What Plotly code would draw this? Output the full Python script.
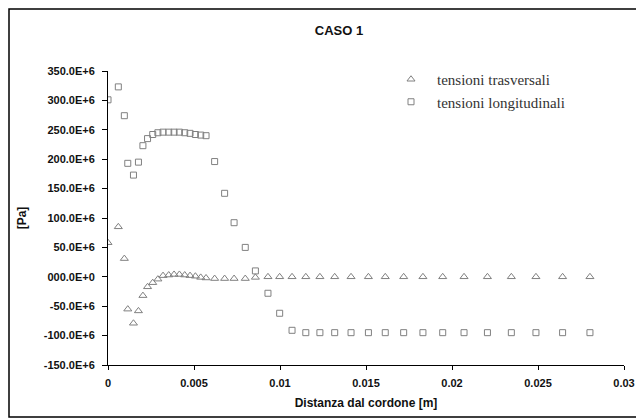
import plotly.graph_objects as go

# Distance from weld bead [m]
distanza = [0.0, 0.0006, 0.00095, 0.00115, 0.00148, 0.00177, 0.00203, 0.0023, 0.0026,
            0.0029, 0.0032, 0.00353, 0.00384, 0.00415, 0.00446, 0.00477, 0.00508, 0.00539, 0.0057,
            0.0062, 0.00678, 0.00733, 0.00798, 0.00857, 0.0093, 0.00998, 0.0107,
            0.0115, 0.01232, 0.01318, 0.01413, 0.01514, 0.01612, 0.01719, 0.01831, 0.01946,
            0.0207, 0.02206, 0.02345, 0.02488, 0.02643, 0.02802]

# Stresses [Pa]
tensioni_trasversali = [58e6, 85e6, 31e6, -55e6, -79e6, -58e6, -32e6, -17e6, -10e6,
                        -4e6, 2e6, 3e6, 4e6, 4e6, 3e6, 2e6, 1e6, -1e6, -2e6,
                        -3e6, -3e6, -3e6, -3e6, -1e6, 0, 0, 0,
                        0, 0, 0, 0, 0, 0, 0, 0, 0,
                        0, 0, 0, 0, 0, 0]

tensioni_longitudinali = [301e6, 323e6, 274e6, 193e6, 173e6, 195e6, 223e6, 235e6, 242e6,
                          245e6, 246e6, 246e6, 246e6, 246e6, 245e6, 244e6, 242e6, 241e6, 240e6,
                          196e6, 142e6, 92e6, 50e6, 10e6, -28e6, -62e6, -91e6,
                          -95e6, -95e6, -95e6, -95e6, -95e6, -95e6, -95e6, -95e6, -95e6,
                          -95e6, -95e6, -95e6, -95e6, -95e6, -95e6]

y_tickvals = [350e6, 300e6, 250e6, 200e6, 150e6, 100e6, 50e6, 0, -50e6, -100e6, -150e6]
y_ticktext = ["<b>350.0E+6</b>", "<b>300.0E+6</b>", "<b>250.0E+6</b>", "<b>200.0E+6</b>",
              "<b>150.0E+6</b>", "<b>100.0E+6</b>", "<b>50.0E+6</b>", "<b>000.0E+0</b>",
              "<b>-50.0E+6</b>", "<b>-100.0E+6</b>", "<b>-150.0E+6</b>"]
x_tickvals = [0, 0.005, 0.01, 0.015, 0.02, 0.025, 0.03]
x_ticktext = ["<b>0</b>", "<b>0.005</b>", "<b>0.01</b>", "<b>0.015</b>", "<b>0.02</b>",
              "<b>0.025</b>", "<b>0.03</b>"]

grey = "#808080"
fig = go.Figure()
fig.add_trace(go.Scatter(x=distanza, y=tensioni_trasversali, mode="markers",
                         name="tensioni trasversali",
                         marker=dict(symbol="triangle-up-open", size=7, color=grey,
                                     line=dict(width=1, color=grey))))
fig.add_trace(go.Scatter(x=distanza, y=tensioni_longitudinali, mode="markers",
                         name="tensioni longitudinali",
                         marker=dict(symbol="square-open", size=6, color=grey,
                                     line=dict(width=1, color=grey))))

# page body has an 8px margin: figure coords = reference coords - 8
OFF = 8
W, H = 644 - OFF, 420 - OFF
L, T = 108 - OFF, 71 - OFF
R = W - (624 - OFF)
B = H - (365 - OFF)
pw, ph = W - L - R, H - T - B

fig.update_layout(
    width=W, height=H,
    margin=dict(l=L, r=R, t=T, b=B, autoexpand=False),
    paper_bgcolor="white", plot_bgcolor="white",
    font=dict(family="Arial, Liberation Sans", size=11, color="#111111"),
    title=dict(text="<b>CASO 1</b>", x=(339 - OFF) / W, xanchor="center",
               y=1 - (30 - OFF) / H, yanchor="middle", font=dict(size=13)),
    xaxis=dict(range=[0, 0.03], tickvals=x_tickvals, ticktext=x_ticktext,
               showgrid=False, zeroline=False, showline=True, linecolor="black",
               linewidth=1, ticks="outside", ticklen=4, tickcolor="black",
               tickfont=dict(size=11), automargin=False, ticklabelstandoff=4,
               title=dict(text="<b>Distanza dal cordone [m]</b>", font=dict(size=12), standoff=10)),
    yaxis=dict(range=[-150e6, 350e6], tickvals=y_tickvals, ticktext=y_ticktext,
               showgrid=False, zeroline=False, showline=True, linecolor="black",
               linewidth=1, ticks="outside", ticklen=5, tickcolor="black",
               tickfont=dict(size=11), automargin=False, ticklabelstandoff=5,
               title=dict(text="<b>[Pa]</b>", font=dict(size=12), standoff=14)),
    legend=dict(x=(385 - 108) / pw, xanchor="left", y=(H - B - (63 - OFF)) / ph, yanchor="top",
                bgcolor="rgba(0,0,0,0)", itemwidth=42, tracegroupgap=0,
                font=dict(family="Liberation Serif, Times New Roman, serif", size=15, color="#333333")),
    showlegend=True,
)

fig.add_shape(type="rect", xref="paper", yref="paper",
              x0=(1 - L) / pw, x1=(639 - OFF - L) / pw,
              y0=(H - B - (417 - OFF)) / ph, y1=(H - B - 1) / ph,
              line=dict(color="black", width=1.5))

fig.write_html("out.html")
